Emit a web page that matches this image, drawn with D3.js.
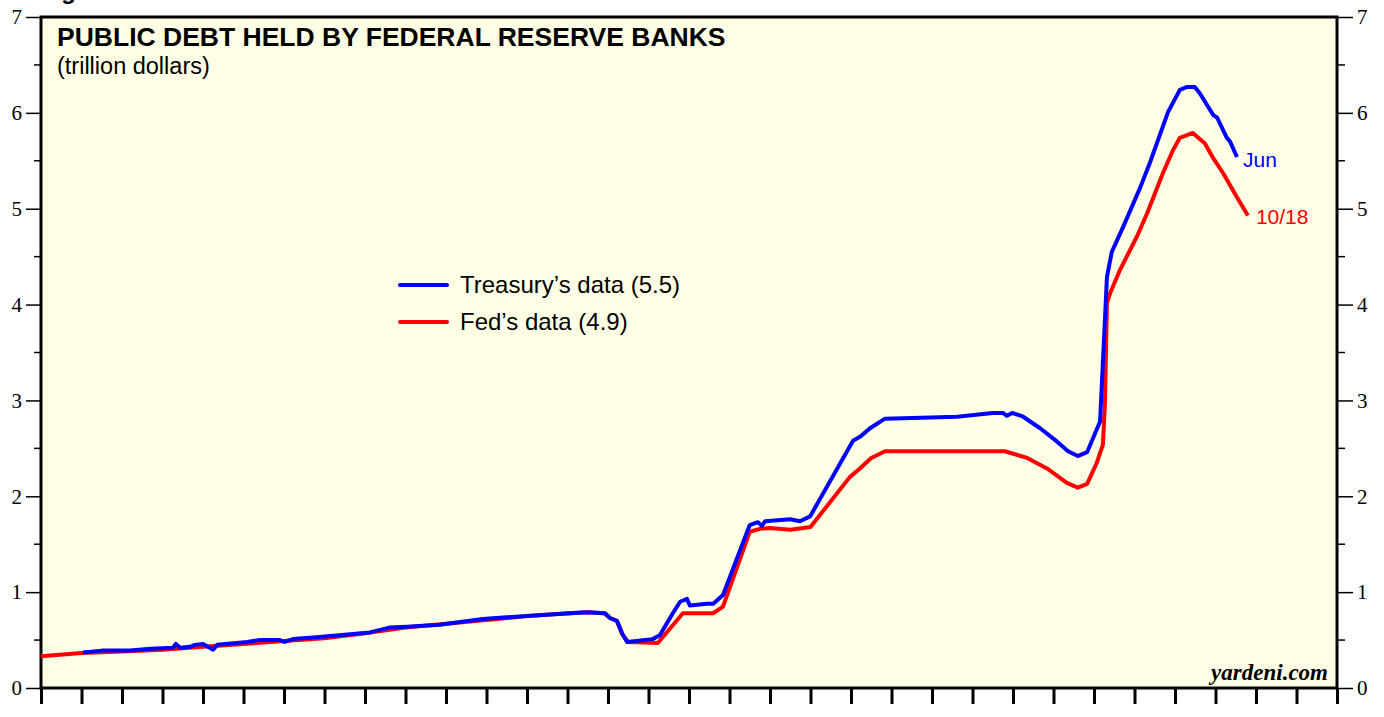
<!DOCTYPE html>
<html>
<head>
<meta charset="utf-8">
<script src="https://cdn.jsdelivr.net/npm/d3@7"></script>
<style>
  html, body { margin: 0; background: #fff; overflow: hidden; }
  svg { display: block; }
</style>
</head>
<body>
<svg width="1384" height="717"></svg>
<script>
// decimal year, trillion dollars
var treasuryYears = [1995.04, 1995.5, 1996.2, 1996.7, 1997.26, 1997.33, 1997.43, 1997.68, 1997.8, 1998.0, 1998.12, 1998.25, 1998.35,
  1999.09, 1999.4, 1999.9, 2000.02, 2000.22, 2000.8, 2002.12, 2002.6, 2003.04, 2003.85, 2004.9, 2006.3, 2007.48, 2007.93,
  2008.05, 2008.22, 2008.35, 2008.47, 2009.1, 2009.28, 2009.6, 2009.78, 2009.95, 2010.02, 2010.44, 2010.6, 2010.84,
  2011.5, 2011.7, 2011.8, 2011.88, 2012.5, 2012.74, 2012.99, 2014.05, 2014.22, 2014.47, 2014.84, 2016.62, 2017.5,
  2017.75, 2017.85, 2017.98, 2018.25, 2018.67, 2019.09, 2019.36, 2019.6, 2019.83, 2020.15, 2020.32, 2020.44, 2020.72,
  2021.14, 2021.38, 2021.83, 2022.12, 2022.3, 2022.49, 2022.62, 2022.94, 2023.04, 2023.28, 2023.36, 2023.53];
var treasuryValues = [0.37, 0.39, 0.39, 0.41, 0.42, 0.46, 0.42, 0.43, 0.45, 0.46, 0.43, 0.40, 0.45,
  0.48, 0.50, 0.50, 0.48, 0.51, 0.53, 0.58, 0.63, 0.64, 0.66, 0.72, 0.76, 0.79, 0.78,
  0.73, 0.70, 0.57, 0.48, 0.51, 0.55, 0.78, 0.90, 0.93, 0.86, 0.88, 0.88, 0.97,
  1.70, 1.73, 1.69, 1.74, 1.76, 1.74, 1.79, 2.58, 2.62, 2.71, 2.81, 2.83, 2.87,
  2.87, 2.84, 2.87, 2.83, 2.71, 2.57, 2.47, 2.42, 2.46, 2.78, 4.29, 4.55, 4.81,
  5.22, 5.48, 6.01, 6.24, 6.27, 6.27, 6.20, 5.98, 5.95, 5.74, 5.70, 5.54];

var fedYears = [1994.0, 1995.0, 1996.0, 1997.0, 1998.0, 1999.0, 2000.0, 2001.0, 2002.0, 2003.0, 2004.0, 2005.0, 2006.0,
  2007.0, 2007.5, 2007.9, 2008.05, 2008.22, 2008.35, 2008.5, 2009.23, 2009.85, 2010.6, 2010.84, 2011.5, 2011.75,
  2012.0, 2012.5, 2013.0, 2013.97, 2014.22, 2014.5, 2014.84, 2017.8, 2018.35, 2018.84, 2019.33, 2019.6, 2019.83,
  2020.07, 2020.22, 2020.27, 2020.32, 2020.4, 2020.64, 2021.06, 2021.31, 2021.7, 2021.95, 2022.12, 2022.44,
  2022.74, 2022.94, 2023.19, 2023.53, 2023.8];
var fedValues = [0.33, 0.365, 0.38, 0.40, 0.43, 0.46, 0.49, 0.52, 0.57, 0.63, 0.67, 0.71, 0.75,
  0.78, 0.79, 0.78, 0.73, 0.70, 0.56, 0.48, 0.47, 0.78, 0.78, 0.85, 1.63, 1.66,
  1.67, 1.65, 1.68, 2.20, 2.29, 2.40, 2.47, 2.47, 2.40, 2.29, 2.14, 2.09, 2.13,
  2.35, 2.54, 2.97, 4.02, 4.12, 4.36, 4.71, 4.95, 5.37, 5.61, 5.74, 5.79,
  5.68, 5.53, 5.37, 5.12, 4.93];

var yearLabels = ["94", "95", "96", "97", "98", "99", "00", "01", "02", "03", "04", "05", "06", "07", "08", "09",
  "10", "11", "12", "13", "14", "15", "16", "17", "18", "19", "20", "21", "22", "23", "24", "25"];
var yTicks = [0, 1, 2, 3, 4, 5, 6, 7];
var legendNames = ["Treasury\u2019s data (5.5)", "Fed\u2019s data (4.9)"];

function main() {
  var svg = d3.select("svg"),
      left = 41, right = 1337, top = 17, bottom = 688;

  var x = d3.scaleLinear().domain([1994, 2026]).range([left, right]);
  var y = d3.scaleLinear().domain([0, 7]).range([bottom, top]);

  var sans = "Liberation Sans, Arial, sans-serif";
  var serif = "Liberation Serif, Times New Roman, serif";

  // cut-off figure caption above the chart
  svg.append("text")
     .attr("x", 40).attr("y", -1)
     .attr("font-family", sans)
     .attr("font-weight", "bold")
     .attr("font-size", "24px")
     .text("Figure 1.");

  // plot background
  svg.append("rect")
     .attr("x", left).attr("y", top)
     .attr("width", right - left).attr("height", bottom - top)
     .attr("fill", "#ffffe6");

  var minor = d3.range(0.5, 7, 1);

  // left axis
  var gl = svg.append("g").attr("transform", "translate(" + left + ",0)");
  gl.call(d3.axisLeft(y).tickValues(yTicks).tickSize(15).tickPadding(4).tickFormat(d3.format("d")));
  gl.append("g").selectAll("line").data(minor).enter().append("line")
    .attr("x1", -7).attr("x2", 0)
    .attr("y1", function(d) { return y(d); }).attr("y2", function(d) { return y(d); })
    .attr("stroke", "#000").attr("stroke-width", 1.5);

  // right axis
  var gr = svg.append("g").attr("transform", "translate(" + right + ",0)");
  gr.call(d3.axisRight(y).tickValues(yTicks).tickSize(16).tickPadding(4).tickFormat(d3.format("d")));
  gr.append("g").selectAll("line").data(minor).enter().append("line")
    .attr("x1", 0).attr("x2", 8)
    .attr("y1", function(d) { return y(d); }).attr("y2", function(d) { return y(d); })
    .attr("stroke", "#000").attr("stroke-width", 1.5);

  [gl, gr].forEach(function(g) {
    g.select(".domain").remove();
    g.selectAll(".tick line").attr("stroke-width", 1.5);
    g.selectAll(".tick text").attr("font-family", serif).attr("font-size", "21px").attr("fill", "#000");
  });

  // bottom axis: ticks at year boundaries, labels in between
  // keep labels inside the visible window if it is shorter than the svg
  var viewH = window.innerHeight || 717;
  var labelY = Math.min(27, viewH - bottom - 3);
  var yearStarts = d3.range(1994, 2027);
  var gb = svg.append("g").attr("transform", "translate(0," + bottom + ")");
  gb.call(d3.axisBottom(x).tickValues(yearStarts).tickSize(16).tickFormat(""));
  gb.select(".domain").remove();
  gb.selectAll(".tick line").attr("stroke-width", 3);
  gb.selectAll(".yearlabel").data(yearLabels).enter().append("text")
    .attr("class", "yearlabel")
    .attr("x", function(d, i) { return x(1994 + i + 0.5); })
    .attr("y", labelY)
    .attr("text-anchor", "middle")
    .attr("font-family", serif)
    .attr("font-size", "21px")
    .text(function(d) { return d; });

  // frame
  svg.append("rect")
     .attr("x", left).attr("y", top)
     .attr("width", right - left).attr("height", bottom - top)
     .attr("fill", "none").attr("stroke", "#000").attr("stroke-width", 3);

  var line = d3.line()
    .x(function(d) { return x(d[0]); })
    .y(function(d) { return y(d[1]); });

  var fed = d3.zip(fedYears, fedValues),
      treasury = d3.zip(treasuryYears, treasuryValues);

  svg.append("path").datum(fed)
     .attr("d", line).attr("fill", "none")
     .attr("stroke", "#ff0000").attr("stroke-width", 4).attr("stroke-linejoin", "round");
  svg.append("path").datum(treasury)
     .attr("d", line).attr("fill", "none")
     .attr("stroke", "#0000ff").attr("stroke-width", 4).attr("stroke-linejoin", "round");

  // end labels
  var lastT = treasury[treasury.length - 1], lastF = fed[fed.length - 1];
  svg.append("text")
     .attr("x", x(lastT[0]) + 6).attr("y", y(lastT[1]) + 10)
     .attr("font-family", sans).attr("font-size", "21px").attr("fill", "#0000ff")
     .text("Jun");
  svg.append("text")
     .attr("x", x(lastF[0]) + 8).attr("y", y(lastF[1]) + 9)
     .attr("font-family", sans).attr("font-size", "21px").attr("fill", "#ff0000")
     .text("10/18");

  // title
  svg.append("text")
     .attr("x", 57).attr("y", 46)
     .attr("font-family", sans).attr("font-weight", "bold").attr("font-size", "26.5px")
     .text("PUBLIC DEBT HELD BY FEDERAL RESERVE BANKS");
  svg.append("text")
     .attr("x", 57).attr("y", 74)
     .attr("font-family", sans).attr("font-size", "23.5px")
     .text("(trillion dollars)");

  // legend
  var colors = ["#0000ff", "#ff0000"];
  var lg = svg.append("g").attr("transform", "translate(400,285)");
  lg.selectAll("line").data(legendNames).enter().append("line")
    .attr("x1", 0).attr("x2", 47)
    .attr("y1", function(d, i) { return i * 37; }).attr("y2", function(d, i) { return i * 37; })
    .attr("stroke", function(d, i) { return colors[i]; })
    .attr("stroke-width", 4).attr("stroke-linecap", "round");
  lg.selectAll("text").data(legendNames).enter().append("text")
    .attr("x", 60).attr("y", function(d, i) { return i * 37 + 8; })
    .attr("font-family", sans).attr("font-size", "24px").attr("fill", "#000")
    .text(function(d) { return d; });

  // source
  svg.append("text")
     .attr("x", 1328).attr("y", 680)
     .attr("text-anchor", "end")
     .attr("font-family", serif).attr("font-weight", "bold").attr("font-style", "italic")
     .attr("font-size", "23px")
     .text("yardeni.com");
}
main();
</script>
</body>
</html>
